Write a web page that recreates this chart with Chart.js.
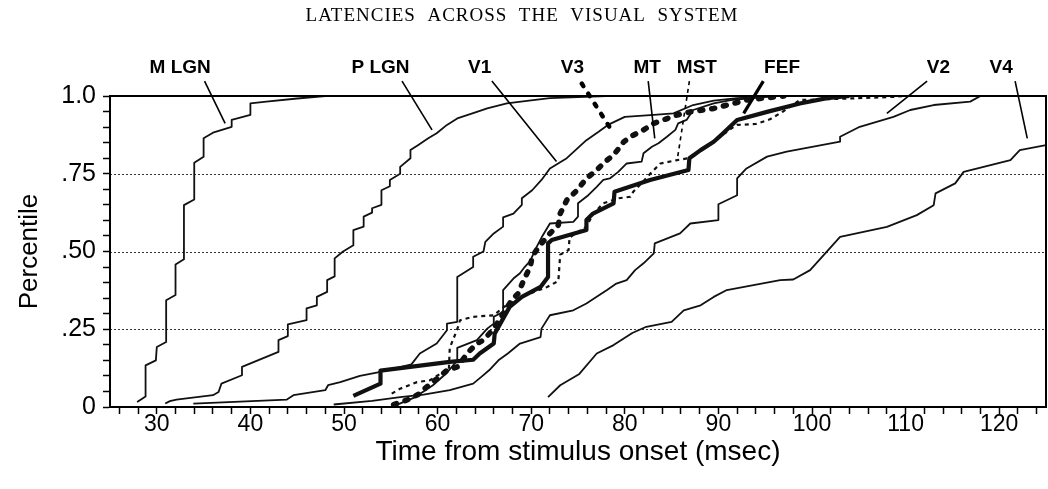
<!DOCTYPE html>
<html>
<head>
<meta charset="utf-8">
<script src="https://cdn.jsdelivr.net/npm/chart.js"></script>
<style>
  html, body { margin: 0; padding: 0; background: #fff; }
  canvas { display: block; }
</style>
</head>
<body>
<canvas id="latencyChart" width="1048" height="489"></canvas>
<script>
// cumulative latency distributions, [msec, percentile]
const M_LGN = [[27.9,0.016],[28.8,0.034],[28.8,0.134],[29.9,0.15],[30,0.193],[31,0.209],[31,0.343],[32,0.36],[32,0.458],[32.9,0.475],[32.9,0.649],[34,0.667],[34,0.785],[35,0.805],[35,0.864],[36,0.882],[38,0.901],[38,0.923],[40,0.939],[40,0.976],[41.7,0.982],[45,0.992],[48,1.0]];
const P_LGN = [[30.9,0.011],[31.4,0.019],[32.1,0.024],[36,0.038],[36.6,0.048],[36.9,0.075],[39.1,0.102],[39.1,0.129],[43,0.177],[43,0.215],[44,0.228],[44,0.266],[46,0.279],[46,0.317],[47.1,0.327],[47.1,0.354],[48.2,0.37],[48.2,0.408],[49,0.42],[49,0.478],[49.9,0.5],[51,0.52],[51,0.569],[52.1,0.58],[52.1,0.612],[53,0.625],[53,0.639],[54,0.65],[54,0.697],[54.9,0.71],[54.9,0.73],[56,0.75],[56,0.772],[57.1,0.8],[57.1,0.826],[57.9,0.842],[59,0.864],[59.9,0.88],[61,0.907],[62.1,0.928],[64.2,0.949],[65.3,0.96],[67.4,0.976],[70.2,0.987],[72,0.993],[78,1.0]];
const V1 = [[33.9,0.011],[43.9,0.024],[44.6,0.038],[48,0.054],[48.3,0.07],[49.6,0.08],[51.7,0.1],[53.9,0.113],[57.2,0.137],[58.1,0.172],[59.9,0.204],[61,0.247],[61,0.268],[62.1,0.274],[62.1,0.418],[63.8,0.45],[63.8,0.483],[64.9,0.5],[65.1,0.531],[66,0.558],[67,0.58],[67,0.61],[68.1,0.622],[69,0.65],[69,0.671],[70.1,0.697],[71.1,0.73],[72,0.767],[73.8,0.8],[75.9,0.858],[77.2,0.885],[78.2,0.907],[80,0.933],[83.1,0.939],[85.2,0.944],[87.3,0.971],[89.5,0.985],[92,0.993],[96,1.0]];
const V3 = [[55.3,0.008],[56.7,0.022],[58.1,0.043],[58.8,0.064],[60.3,0.1],[61,0.118],[62.1,0.129],[63.3,0.177],[64.2,0.204],[64.9,0.215],[66,0.252],[66.7,0.285],[67.9,0.343],[68.6,0.365],[69.2,0.408],[69.9,0.451],[70.1,0.483],[70.8,0.515],[72,0.558],[72.9,0.585],[73.1,0.622],[73.8,0.665],[74.9,0.697],[75.9,0.735],[77,0.762],[77.9,0.789],[78.8,0.81],[79.9,0.853],[80.9,0.874],[82,0.891],[83.1,0.912],[84.1,0.923],[85.6,0.939],[87,0.949],[89.5,0.96],[91.6,0.976],[93,0.987],[94.8,0.993],[97,1.0]];
const MT = [[55.5,0.005],[57.5,0.03],[59.5,0.07],[61,0.11],[62.1,0.15],[62.1,0.19],[64.2,0.215],[65.3,0.252],[66,0.268],[66,0.29],[67,0.306],[67,0.376],[68.1,0.413],[68.8,0.43],[69.3,0.45],[69.9,0.47],[70.5,0.51],[71.2,0.55],[72,0.59],[74.5,0.595],[75,0.612],[75,0.655],[76.1,0.681],[77,0.708],[77.7,0.73],[78.4,0.735],[79.3,0.756],[80.2,0.783],[81.8,0.789],[82,0.816],[82.9,0.837],[83.6,0.848],[84.5,0.869],[85.4,0.891],[85.7,0.912],[86.6,0.923],[87.3,0.955],[89.5,0.976],[91.3,0.987],[96,1.0]];
const MST = [[55.1,0.043],[56,0.059],[57.8,0.08],[59.2,0.086],[60.3,0.107],[61.2,0.118],[61.3,0.19],[62.1,0.25],[62.4,0.279],[63.8,0.29],[66,0.295],[67,0.32],[69,0.355],[71.7,0.386],[72.9,0.405],[73.1,0.49],[74,0.505],[74.1,0.545],[75.9,0.58],[76.6,0.62],[77.7,0.655],[79.3,0.671],[80.6,0.676],[80.9,0.692],[81.8,0.72],[82.9,0.756],[83.8,0.783],[85.6,0.794],[86.8,0.8],[88.1,0.826],[89.8,0.86],[91.6,0.9],[92,0.907],[94,0.91],[95.5,0.925],[96.9,0.95],[98.7,0.987],[102,0.99],[108.6,0.997],[110,1.0]];
const FEF = [[51,0.036],[53.9,0.075],[53.9,0.117],[61.3,0.145],[63.8,0.152],[64.5,0.172],[66,0.204],[66.1,0.236],[67.7,0.322],[69,0.354],[71,0.386],[71.8,0.418],[71.8,0.526],[72.2,0.537],[75.9,0.569],[75.9,0.601],[76.6,0.622],[78.8,0.655],[78.9,0.692],[82.7,0.73],[86.8,0.762],[86.9,0.8],[88.1,0.826],[89.5,0.853],[90.5,0.88],[92,0.923],[95.2,0.949],[98.7,0.976],[101.6,0.993],[104,1.0]];
const V2 = [[48.9,0.008],[53,0.02],[56,0.032],[58.5,0.04],[61.3,0.054],[63.8,0.075],[64.8,0.1],[65.5,0.118],[66.5,0.15],[67.5,0.172],[68.8,0.204],[71,0.225],[71.1,0.252],[72,0.295],[74.5,0.311],[75.9,0.333],[78.1,0.376],[79.1,0.397],[80.2,0.408],[81.1,0.44],[82,0.462],[83.1,0.494],[83.2,0.526],[85.9,0.558],[87,0.59],[90,0.601],[90,0.652],[92,0.681],[92,0.735],[93,0.767],[95.2,0.805],[97.3,0.821],[103,0.853],[103,0.869],[105.1,0.901],[108.7,0.933],[110.5,0.955],[113,0.971],[116.9,0.982],[118,1.0]];
const V4 = [[71.8,0.032],[73.1,0.07],[75.1,0.105],[77,0.172],[78.8,0.199],[80.8,0.238],[82.3,0.258],[85,0.274],[86.3,0.311],[88.1,0.327],[89.5,0.354],[90.9,0.376],[96.6,0.408],[98,0.41],[99.8,0.44],[103,0.547],[108,0.579],[111.2,0.617],[113,0.649],[113.2,0.687],[115.3,0.719],[116.2,0.756],[121.2,0.794],[122.2,0.826],[125,0.842]];

const seriesNames = ['M LGN', 'P LGN', 'V1', 'V3', 'MT', 'MST', 'FEF', 'V2', 'V4'];
const seriesData = [M_LGN, P_LGN, V1, V3, MT, MST, FEF, V2, V4];

// where each name sits above the plot and where its pointer lands (msec, percentile)
const labelX = [32.5, 53.9, 64.5, 74.4, 82.4, 87.7, 96.8, 113.5, 120.2];
const pointerFrom = [[35.1,1.048],[56.2,1.048],[65.8,1.048],[75.4,1.04],[82.5,1.048],[86.9,1.048],[94.8,1.048],[112.3,1.048],[121.7,1.048]];
const pointerTo = [[37.3,0.912],[59.4,0.891],[72.7,0.789],[78.8,0.88],[83.2,0.864],[85.6,0.794],[92.7,0.944],[108,0.944],[123,0.864]];

// x ticks every 2 msec, labelled every 10
const xTickValues = [];
for (let t = 26; t <= 124; t += 2) xTickValues.push(t);
const xTickLabels = [30, 40, 50, 60, 70, 80, 90, 100, 110, 120];
const yTickLabels = { 0: '0', 25: '.25', 50: '.50', 75: '.75', 100: '1.0' };
const dottedLevels = [0.25, 0.5, 0.75];

// line styles
const thin = { width: 1.8, dash: [], cap: 'butt' };
const styleOf = {
    'V3': { width: 5.5, dash: [3, 9], cap: 'round' },
    'MST': { width: 2.2, dash: [4, 4], cap: 'butt' },
    'FEF': { width: 4.2, dash: [], cap: 'butt' }
};
const styleFor = name => styleOf[name] || thin;

const datasets = seriesNames.map((name, i) => {
    const st = styleFor(name);
    return {
        label: name,
        data: seriesData[i].map(p => ({ x: p[0], y: p[1] })),
        borderColor: '#111',
        borderWidth: st.width,
        borderDash: st.dash,
        borderCapStyle: st.cap,
        borderJoinStyle: 'round',
        pointRadius: 0,
        tension: 0,
        fill: false
    };
});

const decorations = {
    id: 'decorations',
    beforeDatasetsDraw(chart) {
        const { ctx, chartArea: a, scales: { y } } = chart;
        ctx.save();
        ctx.strokeStyle = '#333';
        ctx.lineWidth = 1;
        ctx.setLineDash([2, 2]);
        dottedLevels.forEach(v => {
            const py = Math.round(y.getPixelForValue(v)) + 0.5;
            ctx.beginPath();
            ctx.moveTo(a.left, py);
            ctx.lineTo(a.right, py);
            ctx.stroke();
        });
        ctx.restore();
    },
    afterDraw(chart) {
        const { ctx, chartArea: a, scales: { x, y } } = chart;
        ctx.save();
        // frame
        ctx.strokeStyle = '#000';
        ctx.lineWidth = 2;
        ctx.setLineDash([]);
        ctx.strokeRect(a.left, a.top, a.right - a.left, a.bottom - a.top);

        // pointers
        seriesNames.forEach((name, i) => {
            const st = styleFor(name);
            ctx.lineWidth = name === 'V3' || name === 'FEF' ? st.width - 1 : 1.6;
            ctx.setLineDash(st.dash);
            ctx.lineCap = st.cap;
            ctx.beginPath();
            ctx.moveTo(x.getPixelForValue(pointerFrom[i][0]), y.getPixelForValue(pointerFrom[i][1]));
            ctx.lineTo(x.getPixelForValue(pointerTo[i][0]), y.getPixelForValue(pointerTo[i][1]));
            ctx.stroke();
        });

        // series names
        ctx.setLineDash([]);
        ctx.fillStyle = '#000';
        ctx.font = 'bold 19px "Liberation Sans", Arial, sans-serif';
        ctx.textAlign = 'center';
        ctx.textBaseline = 'middle';
        seriesNames.forEach((name, i) => {
            ctx.fillText(name, x.getPixelForValue(labelX[i]), y.getPixelForValue(1.09));
        });

        // running header
        ctx.font = '19px "Liberation Serif", "Times New Roman", serif';
        ctx.letterSpacing = '1px';
        ctx.fillText('LATENCIES  ACROSS  THE  VISUAL  SYSTEM', 522, 16);
        ctx.restore();
    }
};

new Chart(document.getElementById('latencyChart'), {
    type: 'line',
    data: { datasets },
    plugins: [decorations],
    options: {
        responsive: false,
        animation: false,
        layout: { padding: { top: 96, right: 2, left: 0, bottom: 0 } },
        plugins: { legend: { display: false }, tooltip: { enabled: false } },
        scales: {
            x: {
                type: 'linear',
                min: 25,
                max: 125,
                afterBuildTicks: s => { s.ticks = xTickValues.map(v => ({ value: v })); },
                ticks: {
                    autoSkip: false,
                    maxRotation: 0,
                    padding: -3,
                    color: '#000',
                    font: { family: '"Liberation Sans", Arial, sans-serif', size: 23 },
                    callback: v => (xTickLabels.includes(v) ? String(v) : '')
                },
                grid: { drawOnChartArea: false, tickLength: 7, tickColor: '#000', tickWidth: 1.5 },
                border: { color: '#000', width: 2 },
                title: {
                    display: true,
                    text: 'Time from stimulus onset (msec)',
                    color: '#000',
                    font: { family: '"Liberation Sans", Arial, sans-serif', size: 28 },
                    padding: { top: 0, bottom: 20 }
                },
                afterFit: s => { s.height = 82; }
            },
            y: {
                min: 0,
                max: 1,
                ticks: {
                    stepSize: 0.05,
                    autoSkip: false,
                    padding: 7,
                    color: '#000',
                    font: { family: '"Liberation Sans", Arial, sans-serif', size: 25 },
                    callback: v => yTickLabels[Math.round(v * 100)] || ''
                },
                grid: { drawOnChartArea: false, tickLength: 7, tickColor: '#000', tickWidth: 1.5 },
                border: { color: '#000', width: 2 },
                title: {
                    display: true,
                    text: 'Percentile',
                    color: '#000',
                    font: { family: '"Liberation Sans", Arial, sans-serif', size: 26 },
                    padding: { top: 14, bottom: 0 }
                },
                afterFit: s => { s.width = 110; }
            }
        }
    }
});
</script>
</body>
</html>
